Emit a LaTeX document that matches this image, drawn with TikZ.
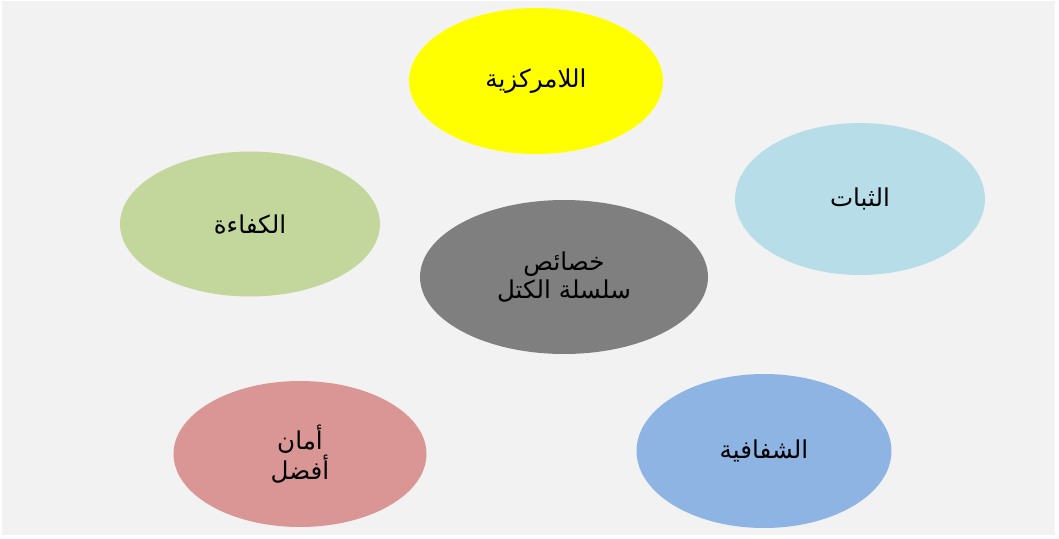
\documentclass[tikz,border=0pt]{standalone}
\usepackage{fontspec}
\newfontfamily\arabicfont[Script=Arabic]{DejaVu Sans}
\TeXXeTstate=1
\usetikzlibrary{shapes.geometric}
\definecolor{bgGray}{HTML}{F2F2F2}
\definecolor{coreGray}{HTML}{7F7F7F}
\definecolor{decYellow}{HTML}{FFFF00}
\definecolor{stabBlue}{HTML}{B7DDE8}
\definecolor{effGreen}{HTML}{C3D69B}
\definecolor{secRed}{HTML}{D99694}
\definecolor{transBlue}{HTML}{8EB4E3}
\tikzset{
  feature/.style = {shape=ellipse, align=center, inner sep=0pt,
                    font=\arabicfont\fontsize{14}{15.5}\selectfont},
  core/.style    = {feature, fill=coreGray,
                    minimum width=5.76cm, minimum height=3.08cm}
}

\begin{document}
\begin{tikzpicture}[x=0.02cm,y=-0.02cm]
\useasboundingbox (0,0) rectangle (1059,538);
\fill[bgGray] (2,1) rectangle (1055,535);
\node [core] (core) at (564,277) {\beginR خصائص\endR\\\beginR سلسلة الكتل\endR};
\node [feature, fill=decYellow, minimum width=5.08cm, minimum height=2.92cm]
  (decentral) at (536,81) {\beginR اللامركزية\endR};
\node [feature, fill=stabBlue, minimum width=5.0cm, minimum height=3.04cm]
  (stable) at (860,199) {\beginR الثبات\endR};
\node [feature, fill=effGreen, minimum width=5.2cm, minimum height=2.9cm]
  (effic) at (250,224) {\beginR الكفاءة\endR};
\node [feature, fill=secRed, minimum width=5.06cm, minimum height=2.92cm]
  (secure) at (300,454) {\beginR أمان\endR\\\beginR أفضل\endR};
\node [feature, fill=transBlue, minimum width=5.1cm, minimum height=3.08cm]
  (transp) at (764,451) {\beginR الشفافية\endR};
\end{tikzpicture}
\end{document}
